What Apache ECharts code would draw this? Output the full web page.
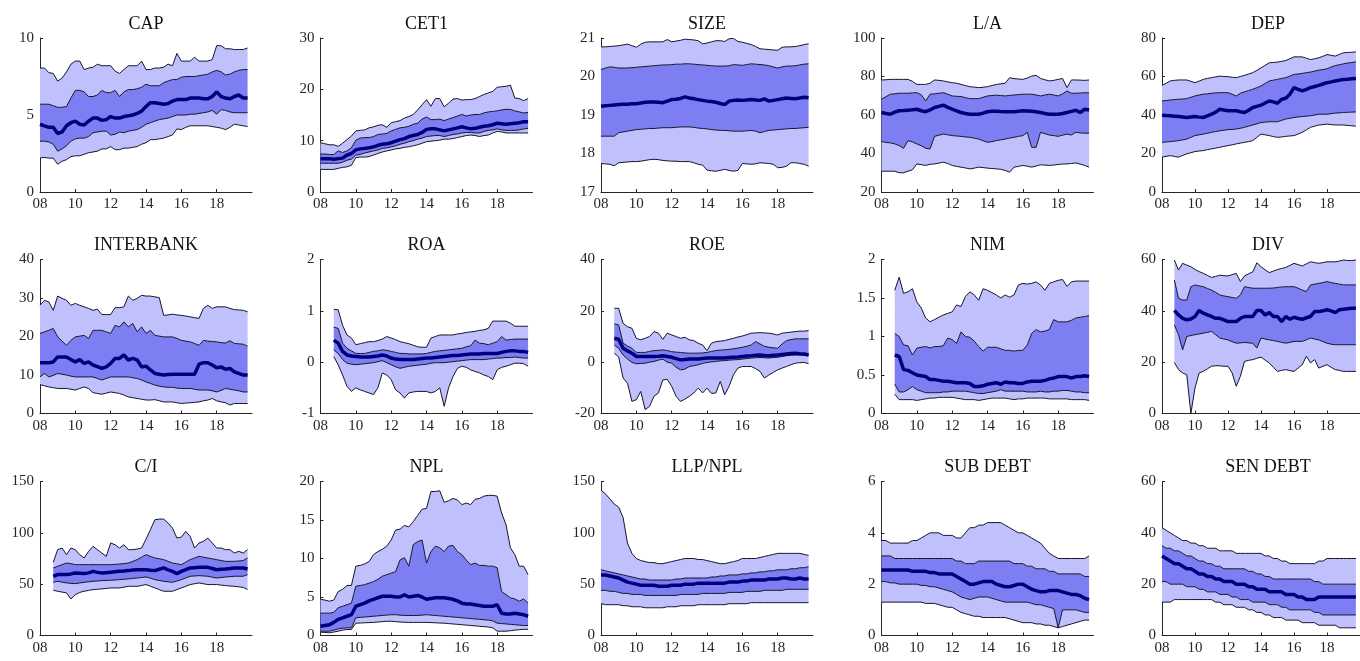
<!DOCTYPE html>
<html>
<head>
<meta charset="utf-8">
<title>Bank indicators - percentile bands</title>
<script src="https://cdn.jsdelivr.net/npm/echarts@6.0.0/dist/echarts.min.js"></script>
<style>
html, body { margin: 0; padding: 0; background: #fff; }
#chart { width: 1360px; height: 661px; }
</style>
</head>
<body>
<div id="chart"></div>
<script>
// quarterly dates, 2008Q1 .. 2019Q4, plus the axis end at 2020
const quarters = [
  2008, 2008.25, 2008.5, 2008.75, 2009, 2009.25, 2009.5, 2009.75,
  2010, 2010.25, 2010.5, 2010.75, 2011, 2011.25, 2011.5, 2011.75,
  2012, 2012.25, 2012.5, 2012.75, 2013, 2013.25, 2013.5, 2013.75,
  2014, 2014.25, 2014.5, 2014.75, 2015, 2015.25, 2015.5, 2015.75,
  2016, 2016.25, 2016.5, 2016.75, 2017, 2017.25, 2017.5, 2017.75,
  2018, 2018.25, 2018.5, 2018.75, 2019, 2019.25, 2019.5, 2019.75,
  2020
];

// each panel: [p5, p25, p50, p75, p95]
const CAP = [
  [2.2,2.25,2.2,2.2, 1.8,2.0,2.1,2.3, 2.35,2.35,2.45,2.55, 2.6,2.65,2.8,2.8, 2.95,2.75,2.75,2.85, 2.85,2.9,2.95,3.1, 3.2,3.4,3.4,3.45, 3.5,3.6,3.7,4.1, 4.05,4.2,4.3,4.3, 4.3,4.3,4.3,4.25, 4.2,4.15,4.05,4.2, 4.4,4.35,4.3,4.25],
  [3.3,3.3,3.25,3.1, 2.65,2.8,3.0,3.3, 3.45,3.5,3.5,3.6, 3.85,3.9,3.95,3.95, 3.7,3.75,3.9,3.85, 3.95,4.0,4.05,4.2, 4.4,4.5,4.6,4.7, 4.75,4.8,4.9,5.0, 5.0,5.0,5.05,5.05, 5.1,5.15,5.2,5.3, 5.05,5.35,5.3,5.2, 5.15,5.15,5.15,5.15],
  [4.4,4.3,4.2,4.2, 3.8,3.9,4.3,4.5, 4.6,4.4,4.35,4.6, 4.8,4.8,4.65,4.7, 4.9,4.8,4.8,4.9, 4.95,5.0,5.1,5.25, 5.55,5.8,5.8,5.75, 5.7,5.75,5.9,6.0, 6.0,6.0,6.1,6.1, 6.1,6.05,6.05,6.2, 6.5,6.2,6.1,6.05, 6.2,6.3,6.1,6.1],
  [5.7,5.7,5.7,5.6, 5.5,5.5,5.55,6.1, 6.6,6.6,6.5,6.2, 6.2,6.3,6.6,6.45, 6.45,6.6,6.2,6.5, 6.65,6.65,6.7,6.8, 7.0,6.9,6.9,6.9, 7.1,7.2,7.3,7.3, 7.45,7.5,7.5,7.5, 7.55,7.6,7.65,7.8, 7.9,7.8,7.6,7.65, 7.8,7.9,7.95,7.95],
  [8.05,8.05,7.75,7.7, 7.2,7.4,7.8,8.3, 8.5,8.5,7.95,8.05, 8.1,8.3,8.2,8.2, 8.2,7.85,7.7,7.95, 8.2,8.2,8.2,8.5, 7.95,7.95,8.05,8.05, 8.1,8.3,8.2,9.0, 8.5,8.5,8.5,8.75, 8.5,8.5,8.5,8.6, 9.5,9.5,9.3,9.3, 9.25,9.25,9.25,9.35]
];
const CET1 = [
  [4.4,4.4,4.4,4.4, 4.6,4.8,4.9,5.2, 6.7,6.8,6.8,6.9, 7.2,7.5,7.8,8.0, 8.2,8.4,8.5,8.7, 8.8,9.0,9.2,9.5, 9.8,9.9,10.0,10.1, 10.3,10.3,10.4,10.6, 10.8,11.0,11.1,11.0, 10.8,11.0,11.1,11.5, 11.8,11.7,11.5,11.5, 11.5,11.5,11.5,11.5],
  [5.6,5.6,5.6,5.6, 5.6,5.8,6.2,6.4, 7.2,7.3,7.6,7.8, 8.0,8.2,8.5,8.6, 8.8,9.0,9.3,9.5, 9.8,10.0,10.3,10.5, 10.8,10.9,11.0,11.0, 10.8,11.0,11.2,11.3, 11.5,11.6,11.6,11.5, 11.5,11.8,12.0,12.1, 12.3,12.1,12.0,12.0, 12.0,12.1,12.3,12.4],
  [6.5,6.5,6.5,6.4, 6.5,6.6,7.2,7.5, 8.2,8.4,8.5,8.6, 8.8,9.1,9.3,9.4, 9.6,9.9,10.2,10.4, 10.8,11.0,11.2,11.6, 12.2,12.3,12.3,12.1, 11.9,12.1,12.3,12.5, 12.7,12.5,12.3,12.4, 12.6,12.8,12.9,13.1, 13.4,13.3,13.2,13.3, 13.4,13.5,13.7,13.7],
  [7.4,7.4,7.3,7.3, 8.0,7.7,8.0,8.6, 10.1,10.5,10.6,10.6, 10.8,11.2,11.3,11.4, 11.9,12.2,12.5,12.6, 12.8,13.2,13.4,14.2, 14.6,14.1,14.1,14.2, 13.9,14.2,14.5,14.8, 15.1,14.8,15.0,15.1, 15.1,15.4,15.6,15.7, 15.8,16.0,16.1,16.1, 15.8,15.6,15.4,15.5],
  [9.6,9.4,9.2,9.2, 8.9,9.5,10.2,10.9, 11.9,12.0,12.1,12.5, 12.7,13.0,13.1,12.6, 13.5,13.7,13.9,14.4, 14.7,15.1,16.0,17.0, 18.0,16.7,18.2,18.2, 16.6,17.3,18.1,18.2, 17.9,18.0,18.0,18.2, 18.6,19.0,19.3,19.6, 20.4,20.5,20.6,20.8, 18.3,18.2,17.8,18.2]
];
const SIZE = [
  [17.74,17.73,17.72,17.68, 17.76,17.77,17.78,17.79, 17.79,17.8,17.82,17.84, 17.85,17.84,17.82,17.81, 17.8,17.8,17.79,17.79, 17.79,17.76,17.72,17.7, 17.57,17.55,17.54,17.56, 17.59,17.56,17.54,17.56, 17.74,17.73,17.72,17.73, 17.76,17.75,17.74,17.72, 17.63,17.64,17.67,17.76, 17.76,17.74,17.72,17.67],
  [18.45,18.45,18.45,18.45, 18.54,18.56,18.58,18.6, 18.62,18.63,18.64,18.65, 18.65,18.66,18.67,18.67, 18.67,18.68,18.69,18.69, 18.69,18.68,18.66,18.65, 18.64,18.62,18.61,18.6, 18.6,18.59,18.58,18.58, 18.58,18.59,18.6,18.58, 18.54,18.57,18.6,18.61, 18.62,18.63,18.64,18.65, 18.65,18.66,18.67,18.68],
  [19.23,19.24,19.25,19.26, 19.27,19.28,19.28,19.29, 19.29,19.31,19.33,19.34, 19.34,19.33,19.32,19.36, 19.4,19.41,19.43,19.47, 19.44,19.42,19.4,19.38, 19.36,19.35,19.33,19.3, 19.27,19.36,19.38,19.39, 19.38,19.39,19.4,19.39, 19.38,19.42,19.36,19.38, 19.4,19.42,19.44,19.43, 19.42,19.44,19.46,19.45],
  [20.18,20.22,20.25,20.24, 20.22,20.22,20.22,20.23, 20.24,20.25,20.26,20.27, 20.28,20.29,20.3,20.3, 20.31,20.32,20.32,20.33, 20.33,20.32,20.31,20.3, 20.29,20.28,20.27,20.27, 20.27,20.28,20.31,20.3, 20.29,20.31,20.33,20.32, 20.31,20.3,20.28,20.25, 20.22,20.25,20.27,20.27, 20.28,20.3,20.32,20.33],
  [20.77,20.77,20.78,20.79, 20.8,20.82,20.84,20.8, 20.76,20.84,20.89,20.9, 20.9,20.9,20.9,20.96, 20.9,20.92,20.94,20.97, 20.96,20.95,20.93,20.85, 20.87,20.9,20.93,20.93, 20.91,20.98,20.99,20.91, 20.89,20.86,20.83,20.78, 20.72,20.71,20.7,20.69, 20.68,20.76,20.77,20.77, 20.78,20.8,20.83,20.85]
];
const LA = [
  [30.8,30.8,30.8,30.8, 30.0,30.0,30.8,31.5, 34.6,34.2,33.8,34.4, 34.6,35.0,35.5,34.8, 33.8,33.3,32.9,32.5, 32.0,32.4,32.9,32.7, 32.4,32.2,32.0,31.8, 31.2,30.3,32.9,33.3, 33.8,33.4,32.9,33.5, 34.1,34.0,33.8,34.0, 34.3,34.5,34.6,34.8, 35.1,34.5,33.8,32.9],
  [46.2,45.8,45.5,45.0, 44.1,42.7,46.7,46.0, 45.0,44.0,42.7,42.4, 48.9,49.5,50.1,49.7, 49.3,49.1,48.9,48.6, 48.4,48.0,47.5,46.6, 45.8,46.2,46.7,47.1, 47.5,48.0,48.4,48.9, 49.3,51.0,43.2,43.2, 51.0,50.3,49.6,49.3, 48.9,49.5,50.1,49.6, 51.0,50.7,50.5,50.6],
  [61.3,60.8,60.4,61.5, 62.2,62.3,62.5,62.7, 63.0,62.2,61.7,62.6, 63.9,64.5,65.1,64.0, 63.0,62.1,61.3,60.8, 60.4,60.4,60.4,61.0, 61.7,61.9,62.0,61.8, 61.7,61.7,61.7,61.9, 62.2,62.1,62.0,61.7, 61.3,60.8,60.4,60.4, 60.4,60.8,61.3,61.9, 62.5,61.3,63.0,62.6],
  [68.2,69.5,70.8,71.0, 71.3,71.3,71.3,71.5, 71.6,70.5,67.3,70.8, 71.0,71.3,71.6,70.8, 69.9,69.7,69.6,69.0, 68.5,68.5,68.5,69.2, 69.9,70.1,70.3,70.1, 69.9,70.2,70.4,70.6, 70.8,70.8,70.8,70.4, 69.9,70.4,70.8,70.4, 69.9,71.0,72.5,71.3, 71.3,71.4,71.6,71.5],
  [78.2,78.3,78.5,78.5, 78.5,78.5,78.5,77.5, 75.9,75.9,75.9,76.5, 78.2,78.0,77.7,77.2, 76.8,76.5,75.9,75.3, 74.7,74.5,74.2,74.4, 74.7,75.3,75.9,76.2, 76.5,79.4,78.9,78.7, 78.5,79.2,80.2,80.6, 79.0,78.3,77.7,78.0, 78.5,79.0,74.2,78.2, 78.2,78.1,78.0,78.2]
];
const DEP = [
  [18.1,18.5,18.9,18.5, 18.1,19.0,19.8,20.4, 21.0,21.3,21.5,22.0, 22.4,22.8,23.2,23.7, 24.1,24.5,25.0,25.4, 25.8,26.2,26.7,28.4, 30.1,29.7,29.3,28.8, 28.4,28.6,28.9,29.1, 29.3,30.1,31.0,32.3, 33.6,34.2,34.8,35.0, 35.3,35.0,34.8,34.8, 34.8,34.6,34.4,34.2],
  [25.8,26.0,26.2,26.4, 26.7,27.1,27.5,28.4, 29.3,29.7,30.1,30.5, 31.0,31.4,31.8,32.1, 32.4,32.5,32.7,33.1, 33.6,34.2,34.8,35.4, 36.1,36.3,36.5,36.5, 36.5,37.2,37.9,38.3, 38.7,39.0,39.2,39.4, 39.6,40.0,40.4,40.4, 40.4,40.7,41.0,41.1, 41.3,41.4,41.5,41.6],
  [39.9,39.7,39.6,39.4, 39.2,39.0,38.7,39.0, 39.2,38.9,38.7,39.5, 40.4,41.5,43.0,42.6, 42.2,42.2,42.2,41.7, 41.3,42.5,43.9,44.5, 45.1,46.2,47.3,46.8, 46.1,48.2,48.7,50.8, 54.2,53.3,52.5,53.3, 54.2,54.8,55.4,56.1, 56.8,57.2,57.7,58.1, 58.5,58.6,58.8,59.0],
  [47.3,47.5,47.8,48.0, 48.2,48.3,48.5,49.2, 49.9,50.4,50.8,51.0, 51.3,51.5,51.6,51.6, 51.6,50.8,49.9,51.3, 52.0,52.7,53.4,54.2, 55.1,56.4,57.7,58.1, 58.5,59.0,59.4,60.2, 61.1,61.3,61.6,62.0, 62.3,62.8,63.3,63.6, 64.0,64.9,65.7,66.1, 66.6,67.0,67.3,67.6],
  [55.4,56.5,57.7,58.0, 58.2,58.2,58.2,57.5, 56.8,57.6,58.5,59.0, 59.4,59.8,60.2,60.0, 59.9,59.6,59.4,60.0, 60.6,61.3,62.0,63.2, 64.5,65.8,67.1,67.3, 67.5,67.9,68.3,69.2, 70.2,70.2,70.2,69.5, 68.8,69.2,69.7,70.5, 71.4,71.0,70.6,71.5, 72.3,72.5,72.6,72.8]
];
const INTERBANK = [
  [7.5,7.2,6.9,6.7, 6.5,6.5,6.5,6.3, 6.1,6.5,6.9,6.5, 5.4,5.2,5.0,5.3, 5.6,5.4,5.2,4.8, 4.3,4.1,3.9,3.7, 3.5,3.5,3.6,3.3, 3.0,3.0,3.0,2.8, 2.6,2.7,2.8,2.9, 3.0,3.3,3.5,3.9, 3.3,3.0,2.8,2.2, 2.6,2.6,2.6,2.6],
  [9.5,10.4,9.5,9.9, 10.4,10.2,10.0,9.7, 9.5,9.5,9.5,9.5, 9.5,9.1,8.7,9.1, 9.5,9.5,9.5,9.5, 9.5,9.3,9.1,8.7, 8.2,7.8,7.4,7.1, 6.9,6.8,6.8,6.6, 6.5,6.5,6.5,6.3, 6.1,6.1,6.1,5.9, 5.6,6.0,6.5,6.3, 6.1,5.9,5.6,5.6],
  [13.2,13.2,13.2,13.4, 14.7,14.7,14.7,14.0, 13.4,14.0,13.0,13.4, 12.6,12.2,11.7,12.1, 13.0,14.3,14.3,15.2, 13.9,14.3,13.9,12.1, 12.3,11.3,10.4,10.2, 10.0,10.1,10.2,10.2, 10.2,10.2,10.2,10.2, 12.8,13.2,13.2,12.6, 11.9,12.1,11.5,11.7, 10.8,10.4,10.0,10.0],
  [20.8,21.2,21.6,22.1, 19.9,18.8,17.7,19.0, 19.9,20.1,20.3,19.5, 21.6,21.6,21.6,21.2, 20.8,22.9,22.5,23.8, 22.5,23.4,21.2,22.5, 20.8,21.6,20.3,20.1, 19.9,19.9,19.9,19.5, 19.0,18.8,18.6,18.2, 17.7,19.0,18.8,18.7, 18.6,18.4,18.3,18.9, 18.2,18.1,18.0,17.5],
  [28.1,29.4,29.0,26.8, 30.5,29.9,29.4,28.1, 28.6,28.1,27.7,27.3, 26.8,27.1,25.7,25.7, 25.7,27.5,27.5,27.7, 30.5,29.4,29.9,30.7, 30.5,30.5,30.3,30.1, 25.5,25.6,25.8,25.6, 25.5,25.3,25.1,24.9, 24.7,27.3,28.1,27.3, 27.7,27.7,27.7,27.3, 27.0,26.9,26.8,26.4]
];
const ROA = [
  [null,null,null,0.11, -0.05,-0.25,-0.47,-0.57, -0.5,-0.54,-0.57,-0.6, -0.63,-0.5,-0.21,-0.25, -0.34,-0.54,-0.6,-0.7, -0.6,-0.58,-0.57,-0.57, -0.57,-0.6,-0.57,-0.5, -0.86,-0.5,-0.28,-0.12, -0.08,-0.1,-0.15,-0.18, -0.21,-0.25,-0.28,-0.34, -0.15,-0.1,-0.08,-0.05, -0.02,-0.02,-0.03,-0.08],
  [null,null,null,0.24, 0.17,0.05,-0.02,-0.04, -0.05,-0.04,-0.03,-0.02, -0.01,0.01,0.03,-0.01, -0.05,-0.09,-0.12,-0.1, -0.08,-0.07,-0.06,-0.05, -0.04,-0.02,-0.01,-0.01, -0.01,0.0,0.01,0.02, 0.03,0.04,0.05,0.05, 0.05,0.05,0.06,0.07, 0.08,0.08,0.09,0.09, 0.1,0.09,0.08,0.08],
  [null,null,null,0.43, 0.37,0.21,0.14,0.12, 0.11,0.1,0.1,0.1, 0.11,0.12,0.14,0.12, 0.08,0.06,0.05,0.05, 0.05,0.05,0.06,0.07, 0.08,0.08,0.09,0.1, 0.11,0.12,0.13,0.13, 0.14,0.15,0.16,0.16, 0.16,0.17,0.17,0.17, 0.17,0.19,0.21,0.22, 0.22,0.21,0.21,0.19],
  [null,null,null,0.68, 0.66,0.37,0.27,0.22, 0.17,0.17,0.17,0.19, 0.21,0.22,0.24,0.23, 0.21,0.19,0.17,0.17, 0.16,0.16,0.16,0.16, 0.17,0.19,0.21,0.22, 0.23,0.24,0.25,0.26, 0.27,0.3,0.32,0.43, 0.37,0.36,0.34,0.37, 0.4,0.5,0.43,0.44, 0.45,0.45,0.45,0.45],
  [null,null,null,1.03, 1.02,0.72,0.53,0.47, 0.34,0.36,0.38,0.4, 0.4,0.42,0.45,0.5, 0.47,0.44,0.4,0.38, 0.36,0.33,0.3,0.29, 0.29,0.47,0.5,0.53, 0.53,0.53,0.53,0.55, 0.56,0.58,0.59,0.6, 0.62,0.63,0.66,0.8, 0.8,0.8,0.8,0.76, 0.7,0.7,0.7,0.7]
];
const ROE = [
  [null,null,null,3.5, 2.0,-6.2,-8.2,-15.3, -14.6,-11.4,-18.5,-17.2, -13.3,-12.0,-6.9,-6.7, -9.4,-13.3,-15.3,-14.4, -13.3,-12.0,-10.1,-12.0, -10.1,-12.2,-12.0,-7.5, -12.7,-9.4,-4.9,-2.3, -1.7,-1.7,-1.7,-2.5, -3.6,-6.2,-5.0,-4.0, -3.0,-2.3,-1.7,-1.0, -0.4,-0.2,-0.1,-0.6],
  [null,null,null,6.7, 5.4,2.8,1.2,-0.1, -0.6,-0.5,-0.4,0.0, 0.3,0.8,1.2,0.0, -0.4,-2.0,-3.0,-2.7, -1.7,-1.4,-1.0,-0.5, -0.1,0.1,0.3,0.5, 0.6,0.8,0.9,1.0, 1.2,1.4,1.6,1.7, 1.8,1.7,1.6,1.8, 1.9,2.2,2.5,2.7, 2.8,2.8,2.8,2.5],
  [null,null,null,9.3, 8.9,5.4,4.4,3.5, 2.2,2.2,2.2,2.2, 2.2,2.3,2.5,2.2, 1.9,1.4,0.9,1.0, 1.2,1.2,1.2,1.4, 1.6,1.6,1.6,1.6, 1.6,1.8,1.9,2.0, 2.2,2.4,2.5,2.7, 2.8,2.6,2.5,2.7, 2.8,3.0,3.2,3.4, 3.5,3.3,3.2,2.8],
  [null,null,null,14.9, 14.5,7.4,6.3,5.4, 3.8,3.8,3.8,4.2, 4.5,4.6,4.8,4.5, 4.1,3.9,3.8,3.6, 3.5,3.5,3.5,3.6, 3.8,4.2,4.5,4.7, 4.8,5.0,5.2,5.5, 5.8,6.2,6.7,8.0, 7.1,6.2,5.8,5.6, 5.4,7.1,8.4,8.8, 9.1,9.1,9.1,9.1],
  [null,null,null,21.0, 21.0,15.1,13.8,13.2, 9.3,8.7,9.3,10.0, 11.9,11.3,8.9,11.3, 10.6,10.0,9.3,9.7, 8.7,8.4,7.4,6.7, 4.5,7.4,8.0,8.2, 8.4,8.9,9.3,9.8, 10.2,10.7,11.3,11.4, 11.5,11.4,11.3,11.0, 10.6,11.3,11.5,11.7, 11.9,12.1,12.1,12.3]
];
const NIM = [
  [null,null,null,0.25, 0.18,0.18,0.18,0.18, 0.17,0.18,0.19,0.2, 0.2,0.21,0.21,0.21, 0.21,0.2,0.19,0.18, 0.18,0.18,0.17,0.18, 0.19,0.2,0.2,0.2, 0.2,0.19,0.18,0.19, 0.19,0.2,0.2,0.2, 0.2,0.2,0.19,0.19, 0.19,0.19,0.19,0.18, 0.18,0.18,0.18,0.17],
  [null,null,null,0.38, 0.28,0.28,0.31,0.35, 0.31,0.29,0.27,0.27, 0.27,0.27,0.28,0.28, 0.29,0.29,0.29,0.29, 0.28,0.27,0.26,0.26, 0.27,0.28,0.29,0.31, 0.29,0.29,0.29,0.29, 0.29,0.28,0.28,0.28, 0.29,0.28,0.28,0.29, 0.29,0.3,0.3,0.29, 0.28,0.28,0.27,0.27],
  [null,null,null,0.76, 0.74,0.57,0.56,0.53, 0.5,0.49,0.48,0.44, 0.44,0.43,0.42,0.42, 0.41,0.4,0.4,0.4, 0.39,0.35,0.35,0.36, 0.38,0.39,0.4,0.38, 0.41,0.4,0.4,0.39, 0.39,0.41,0.42,0.42, 0.42,0.43,0.45,0.46, 0.48,0.48,0.48,0.46, 0.48,0.48,0.49,0.48],
  [null,null,null,1.04, 1.0,0.89,0.88,0.76, 0.85,0.86,0.87,0.85, 0.87,0.87,0.88,0.98, 0.96,0.91,1.06,1.0, 0.99,0.94,0.87,0.81, 0.86,0.86,0.86,0.84, 0.82,0.82,0.81,0.82, 0.82,0.89,1.04,1.09, 1.06,1.07,1.09,1.22, 1.19,1.19,1.19,1.21, 1.24,1.25,1.26,1.27],
  [null,null,null,1.6, 1.77,1.56,1.58,1.62, 1.45,1.37,1.24,1.19, 1.22,1.25,1.28,1.3, 1.32,1.41,1.39,1.52, 1.58,1.54,1.47,1.62, 1.6,1.57,1.54,1.5, 1.54,1.51,1.54,1.67, 1.69,1.68,1.69,1.71, 1.67,1.6,1.69,1.71, 1.73,1.74,1.65,1.71, 1.72,1.72,1.72,1.72]
];
const DIV = [
  [null,null,null,19.9, 17.1,15.8,15.1,0.0, 10.0,15.8,16.4,17.4, 18.4,18.6,18.6,18.4, 18.4,15.8,10.6,14.5, 20.3,20.7,21.0,21.5, 22.0,20.8,19.7,18.0, 16.4,16.8,17.1,16.7, 16.4,17.7,19.0,22.3, 19.7,21.0,17.7,18.4, 19.0,18.0,17.1,16.8, 16.4,16.4,16.4,16.4],
  [null,null,null,34.5, 30.7,24.8,30.0,30.4, 30.7,31.0,31.3,31.6, 32.0,30.7,29.4,29.0, 28.7,28.0,27.4,27.5, 27.7,27.5,27.4,25.5, 29.4,29.0,28.7,28.4, 28.1,27.7,27.4,27.7, 28.1,28.1,28.1,28.7, 29.4,29.0,28.7,28.0, 27.4,27.0,26.8,26.8, 26.8,26.8,26.8,26.8],
  [null,null,null,40.1, 38.4,37.1,36.5,36.8, 37.8,40.1,39.1,38.4, 37.8,37.1,37.1,36.5, 35.8,35.8,35.8,37.1, 37.8,37.8,37.8,40.1, 40.1,38.4,39.3,37.8, 37.8,35.8,37.8,36.7, 37.5,37.0,36.7,37.3, 37.8,39.7,39.7,40.0, 40.4,40.0,39.3,40.4, 40.6,40.8,41.0,41.0],
  [null,null,null,52.0, 44.9,44.2,44.2,49.4, 50.1,49.7,49.4,48.7, 48.1,47.2,46.2,45.8, 45.5,45.2,44.9,46.2, 49.4,49.1,48.8,48.8, 48.8,48.8,48.8,48.9, 49.1,49.3,49.4,49.4, 49.4,48.8,48.1,47.5, 50.1,50.4,50.7,51.0, 51.4,51.0,50.7,50.4, 50.1,50.1,50.1,50.1],
  [null,null,null,59.8, 55.9,58.5,57.8,57.2, 56.1,55.3,54.6,53.8, 53.0,53.4,53.9,53.7, 53.6,54.1,54.6,51.4, 53.6,54.4,55.2,58.7, 57.2,56.0,54.9,55.5, 56.1,56.5,56.9,57.7, 58.5,58.0,57.5,58.3, 59.1,58.8,58.5,58.8, 59.1,59.1,59.1,59.4, 59.8,59.6,59.6,59.8]
];
const CI = [
  [null,null,null,44.1, 43.1,42.3,41.5,35.6, 39.8,42.0,43.1,43.9, 44.7,45.0,45.4,45.8, 46.3,46.3,46.3,47.1, 47.9,47.9,47.9,48.7, 49.6,48.0,46.3,44.7, 43.1,43.1,43.1,44.7, 46.3,47.9,49.6,50.4, 51.2,50.4,49.6,49.6, 49.6,49.1,48.6,48.2, 47.9,47.4,46.9,44.7],
  [null,null,null,51.8, 52.8,52.0,51.2,50.8, 50.5,51.2,51.8,52.3, 52.8,53.1,53.5,53.6, 53.8,54.1,54.4,54.8, 55.1,55.6,56.0,56.5, 57.0,55.8,54.4,53.6, 52.8,52.3,51.8,53.1, 54.4,56.0,57.7,58.0, 58.3,58.0,57.7,56.8, 56.0,56.5,57.0,57.3, 57.7,57.7,57.7,59.3],
  [null,null,null,57.7, 59.3,59.3,59.3,60.0, 60.9,60.6,60.3,61.0, 62.5,61.5,60.9,61.2, 61.5,62.0,62.5,62.8, 63.2,63.7,64.1,64.1, 64.1,63.6,63.2,64.5, 65.8,64.0,62.5,60.3, 62.5,64.1,65.8,66.1, 66.4,66.4,66.4,65.3, 64.1,64.5,64.8,65.2, 65.8,65.8,65.8,64.8],
  [null,null,null,65.8, 67.4,69.0,70.6,70.0, 69.0,69.0,69.0,69.0, 69.0,69.0,69.0,69.0, 69.0,69.3,69.6,70.0, 70.6,72.2,73.9,76.3, 78.7,77.1,75.5,74.7, 73.9,72.2,70.6,69.8, 69.0,71.4,73.9,75.5, 77.1,76.3,75.5,74.7, 73.9,73.0,72.2,72.2, 72.2,72.6,73.0,75.5],
  [null,null,null,71.3, 83.6,85.2,78.7,85.2, 83.6,78.7,75.5,82.0, 86.8,83.6,80.3,77.1, 90.1,88.4,85.2,88.4, 83.6,83.6,84.2,85.2, 93.9,103.0,112.7,113.4, 113.4,109.5,104.6,94.9, 95.8,101.4,96.5,85.2, 90.1,91.7,94.9,90.1, 85.2,85.2,83.6,83.6, 80.3,82.0,80.3,83.6]
];
const NPL = [
  [0.43,0.4,0.35,0.45, 0.56,0.7,0.78,0.78, 1.6,1.62,1.65,1.68, 1.7,1.75,1.8,1.85, 1.85,1.8,1.75,1.72, 1.7,1.7,1.7,1.7, 1.7,1.68,1.65,1.62, 1.6,1.55,1.5,1.45, 1.4,1.35,1.3,1.25, 1.2,1.15,1.1,1.0, 0.56,0.56,0.56,0.62, 0.7,0.75,0.8,0.8],
  [0.56,0.56,0.56,0.7, 0.86,0.95,1.0,1.0, 2.3,2.35,2.4,2.45, 2.5,2.55,2.6,2.65, 2.7,2.7,2.65,2.6, 2.6,2.6,2.6,2.65, 2.7,2.65,2.6,2.55, 2.5,2.45,2.4,2.35, 2.3,2.25,2.2,2.15, 2.1,2.05,2.0,1.9, 1.6,1.55,1.5,1.45, 1.4,1.35,1.3,1.3],
  [1.2,1.3,1.4,1.7, 2.1,2.3,2.5,2.7, 3.8,4.0,4.2,4.5, 4.7,4.9,5.1,5.1, 5.1,5.0,5.0,5.3, 5.0,5.1,5.2,5.0, 4.7,4.8,4.9,4.9, 4.9,4.8,4.7,4.5, 4.2,4.1,4.1,4.0, 3.9,3.8,3.8,3.8, 4.0,2.9,2.8,2.8, 2.9,2.8,2.7,2.5],
  [2.9,2.9,2.9,3.0, 3.6,3.8,4.0,4.2, 6.4,6.5,6.6,6.8, 7.0,7.3,7.7,7.9, 8.1,8.3,9.8,10.1, 9.0,11.8,12.2,12.4, 9.4,10.9,11.6,11.4, 10.9,11.6,11.7,10.9, 10.5,9.8,9.2,9.4, 9.1,9.1,9.0,9.0, 8.8,5.7,5.3,4.9, 4.75,4.45,4.75,4.2],
  [4.7,4.6,4.45,4.6, 5.7,6.0,6.5,6.5, 9.0,9.1,9.3,9.6, 10.5,10.9,11.2,11.6, 12.4,13.7,13.8,14.3, 14.1,14.8,15.6,16.4, 16.5,18.7,18.7,18.8, 17.3,17.5,17.8,17.6, 17.0,17.2,17.0,17.7, 17.8,18.1,18.2,18.2, 18.1,15.9,14.4,11.4, 10.5,9.0,9.0,7.9]
];
const LLPNPL = [
  [31,30,30,30, 30,29,29,28, 28,28,27,27, 27,27,27,28, 28,28,29,29, 29,29,30,30, 30,30,30,30, 30,31,31,31, 31,31,32,32, 32,32,32,32, 32,32,32,32, 32,32,32,32],
  [44,44,43,43, 42,41,41,40, 40,40,39,39, 39,39,39,39, 39,39,40,40, 40,40,40,41, 41,41,41,41, 41,42,42,42, 42,43,43,43, 43,44,44,44, 44,44,45,45, 45,45,45,45],
  [59,59,58,57, 56,54,52,51, 50,49,49,49, 49,48,48,48, 49,49,49,50, 50,50,51,51, 51,51,51,51, 51,52,52,52, 53,53,54,54, 54,54,55,55, 55,56,56,55, 55,56,55,55],
  [64,63,62,61, 60,59,58,57, 56,55,55,54, 54,54,54,54, 54,55,55,56, 56,56,56,56, 56,57,57,58, 58,59,59,59, 60,60,61,61, 62,62,63,63, 64,64,64,65, 65,66,66,67],
  [141.7,138,133,128, 125,115,90,80, 75,73,72,71, 71,70,70,71, 72,73,74,75, 75,75,74,74, 73,72,71,70, 70,71,72,73, 75,75,75,75, 76,77,78,79, 80,80,80,80, 80,80,79,78]
];
const SUBDEBT = [
  [1.3,1.3,1.3,1.3, 1.3,1.3,1.3,1.3, 1.3,1.3,1.25,1.25, 1.25,1.2,1.15,1.1, 1.1,1.0,0.9,0.85, 0.8,0.75,0.75,0.7, 0.7,0.7,0.7,0.7, 0.7,0.65,0.6,0.55, 0.5,0.5,0.5,0.45, 0.45,0.4,0.4,0.35, 0.3,0.35,0.4,0.45, 0.5,0.55,0.6,0.6],
  [2.1,2.1,2.05,2.05, 2.0,2.0,2.0,2.0, 2.0,1.95,1.95,1.9, 1.9,1.85,1.8,1.75, 1.7,1.6,1.5,1.45, 1.4,1.45,1.5,1.5, 1.5,1.45,1.4,1.35, 1.3,1.3,1.3,1.3, 1.3,1.3,1.25,1.2, 1.2,1.15,1.1,1.05, 0.3,1.0,1.0,1.0, 1.0,0.95,0.9,0.9],
  [2.55,2.55,2.55,2.55, 2.55,2.55,2.55,2.5, 2.5,2.5,2.5,2.45, 2.45,2.4,2.4,2.4, 2.4,2.3,2.2,2.1, 2.0,2.0,2.05,2.1, 2.1,2.1,2.0,1.95, 1.9,1.9,1.95,2.0, 2.0,1.9,1.8,1.75, 1.7,1.7,1.75,1.75, 1.75,1.7,1.65,1.6, 1.6,1.55,1.45,1.4],
  [3.1,3.1,3.1,3.0, 3.0,3.0,3.0,3.0, 3.0,3.0,3.0,3.0, 3.0,3.0,3.0,3.0, 3.0,2.9,2.9,2.8, 2.8,2.8,2.9,2.9, 2.9,2.9,2.9,2.9, 2.9,2.9,2.8,2.8, 2.8,2.7,2.7,2.6, 2.6,2.6,2.5,2.5, 2.4,2.4,2.4,2.4, 2.4,2.4,2.3,2.3],
  [3.7,3.7,3.6,3.6, 3.6,3.6,3.6,3.7, 3.7,3.8,3.9,4.0, 4.0,4.0,3.9,3.9, 3.9,3.8,3.8,4.0, 4.2,4.2,4.3,4.3, 4.4,4.4,4.4,4.4, 4.3,4.2,4.1,4.0, 4.0,3.9,3.8,3.7, 3.6,3.4,3.2,3.1, 3.0,3.0,3.0,3.0, 3.0,3.0,3.0,3.1]
];
const SENDEBT = [
  [13,13,13,14, 14,14,14,14, 14,14,14,14, 14,13,13,12, 12,12,11,11, 11,10,10,9, 9,8,8,7, 7,7,6,6, 6,6,5,5, 5,5,4,4, 4,4,4,3, 3,3,3,3],
  [21,21,20,20, 20,20,19,19, 19,18,18,17, 17,17,16,16, 16,15,15,14, 14,14,13,13, 13,13,12,12, 12,11,11,10, 10,10,10,10, 10,9,9,8, 8,8,8,8, 8,8,8,8],
  [31,30,29,28, 28,27,26,26, 25,24,24,23, 23,22,22,21, 21,21,20,20, 20,19,19,18, 18,18,17,17, 17,17,16,16, 16,15,15,14, 14,14,15,15, 15,15,15,15, 15,15,15,15],
  [35,34,34,33, 33,32,31,31, 30,29,29,28, 28,27,27,26, 26,26,26,26, 26,25,25,24, 24,23,23,22, 22,22,22,22, 22,22,22,22, 22,21,21,20, 20,20,20,20, 20,20,20,20],
  [42,41,40,39, 38,37,37,36, 36,35,35,34, 34,34,33,33, 33,33,32,32, 32,32,32,32, 32,31,31,30, 30,29,29,28, 28,28,28,28, 28,28,29,29, 30,30,30,30, 30,30,30,30]
];

const titles = ['CAP', 'CET1', 'SIZE', 'L/A', 'DEP', 'INTERBANK', 'ROA', 'ROE', 'NIM', 'DIV',
  'C/I', 'NPL', 'LLP/NPL', 'SUB DEBT', 'SEN DEBT'];
const panelData = [CAP, CET1, SIZE, LA, DEP, INTERBANK, ROA, ROE, NIM, DIV, CI, NPL, LLPNPL, SUBDEBT, SENDEBT];
const yMin = [0, 0, 17, 20, 0, 0, -1, -20, 0, 0, 0, 0, 0, 0, 0];
const yMax = [10, 30, 21, 100, 80, 40, 2, 40, 2, 60, 150, 20, 150, 6, 60];
const yStep = [5, 10, 1, 20, 20, 10, 1, 20, 0.5, 20, 50, 5, 50, 2, 20];

const colLeft = [40, 320.5, 601, 881.5, 1162];
const rowTop = [38, 259.5, 481.5];
const plotW = 212, plotH = 154;

const lightBand = '#c0c0fd';
const darkBand = '#7e7ef3';
const edgeCol = '#15152a';
const medianCol = '#00007c';
const axisCol = '#262626';
const serif = '"Liberation Serif", "DejaVu Serif", serif';

// a label/tick every two years, none at the 2020 end
const everyTwoYears = idx => idx % 8 === 0 && idx < quarters.length - 1;

function diff(a, b) {
  return a.map((v, i) => (v == null || b[i] == null) ? null : +(v - b[i]).toFixed(4));
}

const chart = echarts.init(document.getElementById('chart'));

const grids = [], xAxes = [], yAxes = [], series = [], texts = [];

titles.forEach((name, i) => {
  const left = colLeft[i % 5], top = rowTop[Math.floor(i / 5)];
  grids.push({ left: left, top: top, width: plotW, height: plotH });
  xAxes.push({
    gridIndex: i, type: 'category', data: quarters, boundaryGap: false,
    axisLine: { onZero: false, lineStyle: { color: axisCol, width: 1 } },
    axisTick: { inside: true, length: 3, interval: everyTwoYears, lineStyle: { color: axisCol } },
    splitLine: { show: false },
    axisLabel: {
      interval: everyTwoYears, color: axisCol, fontFamily: serif, fontSize: 15, margin: 5,
      formatter: v => String(Math.round(Number(v)) % 100).padStart(2, '0')
    }
  });
  yAxes.push({
    gridIndex: i, type: 'value', min: yMin[i], max: yMax[i], interval: yStep[i],
    axisLine: { show: true, onZero: false, lineStyle: { color: axisCol, width: 1 } },
    axisTick: { show: true, inside: true, length: 3, lineStyle: { color: axisCol } },
    splitLine: { show: false },
    axisLabel: { color: axisCol, fontFamily: serif, fontSize: 15, margin: 6 }
  });
  texts.push({
    type: 'text', x: left + plotW / 2, y: top - 14,
    style: { text: name, font: '18px ' + serif, fill: '#111', align: 'center', verticalAlign: 'middle' }
  });

  const [p5, p25, p50, p75, p95] = panelData[i];
  const stackName = 'band' + i;
  const common = { type: 'line', xAxisIndex: i, yAxisIndex: i, symbol: 'none', silent: true };
  const areas = [
    [p5, null],
    [diff(p25, p5), lightBand],
    [diff(p75, p25), darkBand],
    [diff(p95, p75), lightBand]
  ];
  areas.forEach(([vals, col]) => {
    const s = Object.assign({}, common, {
      data: vals, stack: stackName, stackStrategy: 'all', z: 1,
      lineStyle: { width: 0, opacity: 0 }
    });
    if (col) s.areaStyle = { color: col, opacity: 1 };
    series.push(s);
  });
  [p5, p25, p75, p95].forEach(vals => {
    series.push(Object.assign({}, common, {
      data: vals, z: 3,
      lineStyle: { color: edgeCol, width: 1 }
    }));
  });
  series.push(Object.assign({}, common, {
    data: p50, z: 4,
    lineStyle: { color: medianCol, width: 3.5 }
  }));
});

chart.setOption({
  animation: false,
  backgroundColor: '#fff',
  grid: grids,
  xAxis: xAxes,
  yAxis: yAxes,
  series: series,
  graphic: texts
});
</script>
</body>
</html>
